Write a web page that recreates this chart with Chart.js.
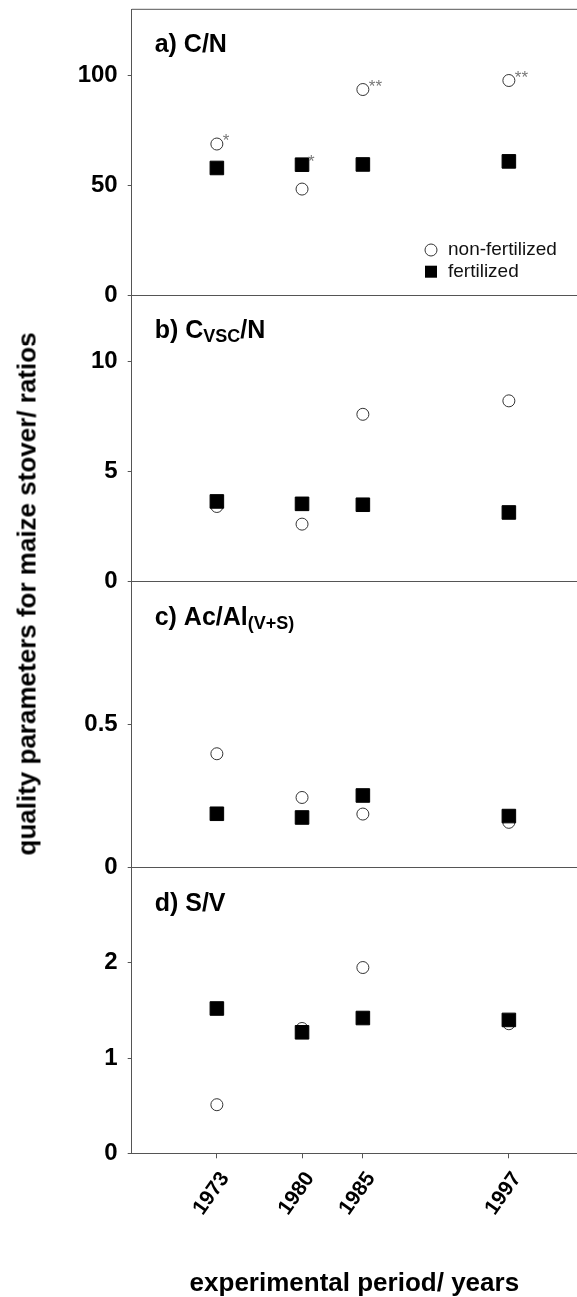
<!DOCTYPE html>
<html><head><meta charset="utf-8">
<script src="https://cdn.jsdelivr.net/npm/chart.js@4.4.1/dist/chart.umd.min.js"></script>
<style>
html,body{margin:0;padding:0;background:#fff;}
#wrap{position:relative;width:577px;height:1297px;overflow:hidden;background:#fff;}
canvas{position:absolute;left:0;}
#ytitle{position:absolute;left:27px;top:594px;transform:translate(-50%,-50%) rotate(-90deg);white-space:nowrap;font:bold 26px "Liberation Sans",Arial,sans-serif;color:#000;}
</style></head><body>
<div id="wrap">
<canvas id="cA" width="577" height="310" style="top:0px"></canvas>
<canvas id="cB" width="577" height="317" style="top:280px"></canvas>
<canvas id="cC" width="577" height="317" style="top:566px"></canvas>
<canvas id="cD" width="577" height="445" style="top:852px"></canvas>
<div id="ytitle">quality parameters for maize stover/ ratios</div>
</div>
<script>
// ---- data ----
const years = [1973, 1980, 1985, 1997];
const yearLabels = ['1973', '1980', '1985', '1997'];
const seriesNames = ['non-fertilized', 'fertilized'];

const cnNonFert = [68.7, 48.2, 93.5, 97.6];
const cnFert = [57.8, 59.3, 59.4, 60.8];
const cnNonFertSig = ['*', '', '**', '**'];
const cnFertSig = ['', '*', '', ''];
const cnTicks = [0, 50, 100];
const cnTickLabels = ['0', '50', '100'];

const cvscNonFert = [3.41, 2.61, 7.59, 8.20];
const cvscFert = [3.64, 3.53, 3.49, 3.14];
const cvscTicks = [0, 5, 10];
const cvscTickLabels = ['0', '5', '10'];

const acalNonFert = [0.398, 0.245, 0.187, 0.158];
const acalFert = [0.188, 0.175, 0.252, 0.180];
const acalTicks = [0, 0.5];
const acalTickLabels = ['0', '0.5'];

const svNonFert = [0.51, 1.31, 1.95, 1.36];
const svFert = [1.52, 1.27, 1.42, 1.40];
const svTicks = [0, 1, 2];
const svTickLabels = ['0', '1', '2'];

// ---- styling / helpers ----
const FONT = '"Liberation Sans", Arial, sans-serif';
const AXIS = '#555';
const X_MIN = 1966, X_MAX = 2002.6;

const panelTitle = {
  id: 'panelTitle',
  afterDraw(chart, args, opts) {
    const {ctx, chartArea} = chart;
    let x = chartArea.left + opts.dx;
    const y = chartArea.top + opts.dy;
    ctx.save();
    ctx.fillStyle = '#000';
    ctx.textAlign = 'left';
    ctx.textBaseline = 'alphabetic';
    for (const p of opts.parts) {
      ctx.font = p.sub ? 'bold 18px ' + FONT : 'bold 25px ' + FONT;
      ctx.fillText(p.t, x, y + (p.sub ? 4 : 0));
      x += ctx.measureText(p.t).width;
    }
    ctx.restore();
  }
};

const sigMarks = {
  id: 'sigMarks',
  afterDatasetsDraw(chart) {
    const {ctx} = chart;
    ctx.save();
    ctx.font = '17px ' + FONT;
    ctx.fillStyle = '#777';
    ctx.textAlign = 'left';
    ctx.textBaseline = 'alphabetic';
    chart.data.datasets.forEach((ds, i) => {
      if (!ds.sig) return;
      chart.getDatasetMeta(i).data.forEach((el, j) => {
        if (ds.sig[j]) ctx.fillText(ds.sig[j], el.x + 6, el.y + 2);
      });
    });
    ctx.restore();
  }
};

const topBorder = {
  id: 'topBorder',
  afterDraw(chart) {
    const {ctx, chartArea} = chart;
    ctx.save();
    ctx.strokeStyle = AXIS;
    ctx.lineWidth = 1;
    ctx.beginPath();
    ctx.moveTo(chartArea.left, chartArea.top);
    ctx.lineTo(chartArea.right, chartArea.top);
    ctx.stroke();
    ctx.restore();
  }
};

const legendBox = {
  id: 'legendBox',
  afterDraw(chart, args, opts) {
    const {ctx, chartArea} = chart;
    const x = chartArea.left + opts.dx;
    let y = chartArea.top + opts.dy;
    const ds = chart.data.datasets;
    ctx.save();
    ctx.font = '19px ' + FONT;
    ctx.textAlign = 'left';
    ctx.textBaseline = 'middle';
    ctx.beginPath();
    ctx.arc(x, y, 6, 0, Math.PI * 2);
    ctx.fillStyle = '#fff'; ctx.fill();
    ctx.strokeStyle = '#333'; ctx.lineWidth = 1; ctx.stroke();
    ctx.fillStyle = '#111';
    ctx.fillText(ds[0].label, x + 17, y);
    y += 21.7;
    ctx.fillStyle = '#000';
    ctx.fillRect(x - 6, y - 6, 12, 12);
    ctx.fillStyle = '#111';
    ctx.fillText(ds[1].label, x + 17, y);
    ctx.restore();
  }
};

function pts(vals) { return years.map((x, i) => ({x: x, y: vals[i]})); }
function noPad(s) { s.paddingTop = 0; s.paddingBottom = 0; s.paddingLeft = 0; s.paddingRight = 0; }

function makePanel(id, p) {
  const xAxis = p.last ? {
    type: 'linear', min: X_MIN, max: X_MAX,
    afterBuildTicks: s => { s.ticks = years.map(v => ({value: v})); },
    afterFit: s => { s.height = p.xHeight; noPad(s); },
    grid: {drawOnChartArea: false, drawTicks: true, tickLength: 5, tickColor: AXIS, tickWidth: 1},
    border: {display: true, color: AXIS, width: 1},
    ticks: {
      autoSkip: false, minRotation: 55, maxRotation: 55, padding: 9, labelOffset: 8,
      color: '#000', font: {family: FONT, size: 21, weight: 'bold'},
      callback: (v) => yearLabels[years.indexOf(v)] ?? ''
    },
    title: {display: true, text: 'experimental period/ years', color: '#000',
      font: {family: FONT, size: 26, weight: 'bold', lineHeight: 1.0}, padding: 0}
  } : {
    type: 'linear', min: X_MIN, max: X_MAX,
    afterBuildTicks: s => { s.ticks = years.map(v => ({value: v})); },
    afterFit: s => { s.height = 0; noPad(s); },
    grid: {drawOnChartArea: false, drawTicks: false},
    border: {display: true, color: AXIS, width: 1},
    ticks: {display: false}
  };
  const plugins = [panelTitle, sigMarks];
  if (p.top) plugins.push(topBorder);
  if (p.legend) plugins.push(legendBox);
  return new Chart(document.getElementById(id), {
    type: 'scatter',
    data: {
      datasets: [
        {label: seriesNames[0], data: pts(p.non), sig: p.nonSig,
          pointStyle: 'circle', pointRadius: 6, backgroundColor: '#fff',
          borderColor: '#333', borderWidth: 1, order: 1},
        {label: seriesNames[1], data: pts(p.fert), sig: p.fertSig,
          pointStyle: 'rect', pointRadius: 9.6, backgroundColor: '#000',
          borderColor: '#000', borderWidth: 1, order: 0}
      ]
    },
    options: {
      responsive: false, animation: false, events: [],
      layout: {autoPadding: false, padding: {top: p.padTop, bottom: p.padBottom, left: 0, right: 0}},
      plugins: {
        legend: {display: false}, tooltip: {enabled: false},
        panelTitle: {dx: 23, dy: 43, parts: p.title},
        legendBox: {dx: 299.3, dy: 240.7}
      },
      scales: {
        x: xAxis,
        y: {
          type: 'linear', min: 0, max: p.max,
          afterBuildTicks: s => { s.ticks = p.ticks.map(v => ({value: v})); },
          afterFit: s => { s.width = 131.7; noPad(s); },
          grid: {drawOnChartArea: false, drawTicks: true, tickLength: 4, tickColor: AXIS, tickWidth: 1},
          border: {display: true, color: AXIS, width: 1},
          ticks: {
            padding: 10, color: '#000', font: {family: FONT, size: 24, weight: 'bold'},
            callback: (v) => { const k = p.ticks.indexOf(v); return k >= 0 ? p.tickLabels[k] : ''; }
          }
        }
      }
    },
    plugins: plugins
  });
}

makePanel('cA', {non: cnNonFert, fert: cnFert, nonSig: cnNonFertSig, fertSig: cnFertSig,
  max: 130, ticks: cnTicks, tickLabels: cnTickLabels, padTop: 9.3, padBottom: 15,
  top: true, legend: true, title: [{t: 'a) C/N'}]});
makePanel('cB', {non: cvscNonFert, fert: cvscFert, max: 13, ticks: cvscTicks, tickLabels: cvscTickLabels,
  padTop: 15, padBottom: 15.3, title: [{t: 'b) C'}, {t: 'VSC', sub: true}, {t: '/N'}]});
makePanel('cC', {non: acalNonFert, fert: acalFert, max: 1.0, ticks: acalTicks, tickLabels: acalTickLabels,
  padTop: 15.7, padBottom: 15.5, title: [{t: 'c) Ac/Al'}, {t: '(V+S)', sub: true}]});
makePanel('cD', {non: svNonFert, fert: svFert, max: 3, ticks: svTicks, tickLabels: svTickLabels,
  padTop: 15.5, padBottom: 0, last: true, xHeight: 143.7, title: [{t: 'd) S/V'}]});
</script>
</body></html>
